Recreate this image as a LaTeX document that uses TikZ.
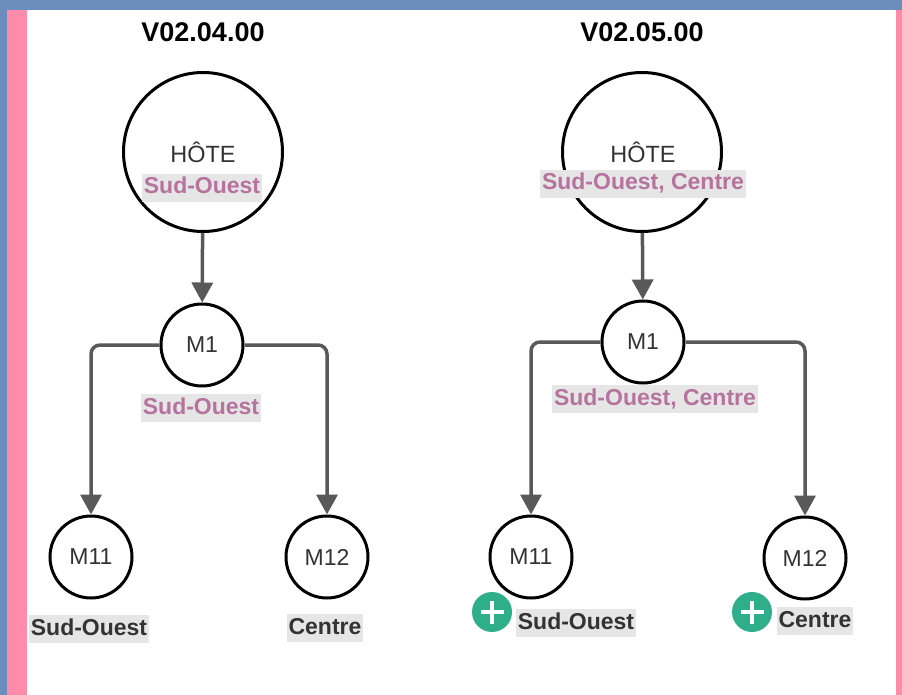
\documentclass[tikz,border=0pt]{standalone}
\usepackage{fontspec}
\setmainfont{Liberation Sans}
\usepackage{tikz}
\usetikzlibrary{arrows.meta}

\definecolor{frameblue}{HTML}{6C8EBF}
\definecolor{framepink}{HTML}{FF8BAA}
\definecolor{labelpink}{HTML}{B5739D}
\definecolor{labelgray}{HTML}{E6E6E6}
\definecolor{linegray}{HTML}{595959}
\definecolor{textgray}{HTML}{333333}
\definecolor{addgreen}{HTML}{2FAE8C}

\begin{document}
\begin{tikzpicture}[x=1pt, y=-1pt,
  hote/.style={circle, draw=black, line width=3pt, minimum size=159pt, inner sep=0pt},
  module/.style={circle, draw=black, line width=3pt, minimum size=82pt, inner sep=0pt,
    text=textgray, font=\fontsize{23}{27}\selectfont},
  conn/.style={draw=linegray, line width=3.5pt, rounded corners=9pt,
    -{Triangle[length=20pt,width=21pt]}},
  version/.style={font=\fontsize{27}{32}\selectfont\bfseries},
  region/.style={fill=labelgray, text=labelpink, inner xsep=2pt, inner ysep=3pt,
    text height=17pt, text depth=5pt, font=\fontsize{23}{27}\selectfont\bfseries},
  added/.style={region, text=textgray},
  plus/.style={circle, fill=addgreen, minimum size=40pt, inner sep=0pt}]

  \useasboundingbox (0,0) rectangle (902,695);
  \fill[frameblue] (0,0) rectangle (902,695);
  \fill[framepink] (7,10) rectangle (902,695);
  \fill[white] (27,10) rectangle (896,695);

  % V02.04.00
  \node[version] (v1) at (203,32) {V02.04.00};
  \node[hote] (h1) at (203,152) {};
  \node[text=textgray, font=\fontsize{23.5}{27}\selectfont] (h1name) at (203,152) {HÔTE};
  \node[region] (h1reg) at (202,188) {Sud-Ouest};
  \node[module] (m1) at (202,345) {M1};
  \node[region] (m1reg) at (201,408) {Sud-Ouest};
  \node[module] (m11) at (91,557) {M11};
  \node[module] (m12) at (327,557) {M12};
  \node[added] (m11reg) at (89,629) {Sud-Ouest};
  \node[added] (m12reg) at (325,628) {Centre};

  \draw[conn] (h1) -- (m1);
  \draw[conn] (m1.west) -| (m11.north);
  \draw[conn] (m1.east) -| (m12.north);

  % V02.05.00
  \node[version] (v2) at (642,32) {V02.05.00};
  \node[hote] (h2) at (642,152) {};
  \node[text=textgray, font=\fontsize{23.5}{27}\selectfont] (h2name) at (643,152) {HÔTE};
  \node[region] (h2reg) at (643,184) {Sud-Ouest, Centre};
  \node[module] (n1) at (643,342) {M1};
  \node[region] (n1reg) at (655,399) {Sud-Ouest, Centre};
  \node[module] (n11) at (531,557) {M11};
  \node[module] (n12) at (805,558) {M12};
  \node[added] (n11reg) at (576,623) {Sud-Ouest};
  \node[added] (n12reg) at (815,621) {Centre};

  \draw[conn] (h2) -- (n1);
  \draw[conn] (n1.west) -| (n11.north);
  \draw[conn] (n1.east) -| (n12.north);

  \foreach \p/\x in {p1/492, p2/752}
  {
    \node[plus] (\p) at (\x,612) {};
    \draw[white, line width=4.5pt] ([xshift=-11.5pt]\p.center) -- ([xshift=11.5pt]\p.center);
    \draw[white, line width=4.5pt] ([yshift=-11.5pt]\p.center) -- ([yshift=11.5pt]\p.center);
  }

\end{tikzpicture}
\end{document}
